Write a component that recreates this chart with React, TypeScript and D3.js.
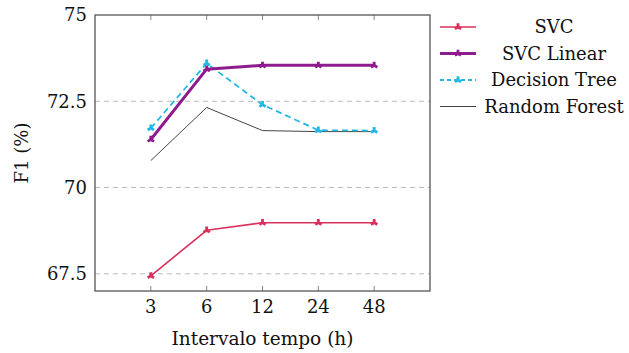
import React, { useEffect, useRef } from "react";
import * as d3 from "d3";

const categories = ["3", "6", "12", "24", "48"];
const yTicks = [67.5, 70, 72.5, 75];

const svcValues = [67.44, 68.76, 68.98, 68.98, 68.98];
const svcLinearValues = [71.39, 73.43, 73.54, 73.54, 73.54];
const decisionTreeValues = [71.72, 73.6, 72.4, 71.66, 71.65];
const randomForestValues = [70.78, 72.32, 71.65, 71.62, 71.62];

const seriesNames = ["SVC", "SVC Linear", "Decision Tree", "Random Forest"];

type Series = {
  name: string;
  values: number[];
  color: string;
  width: number;
  dash: string | null;
  marker: boolean;
};

const series: Series[] = [
  { name: seriesNames[0], values: svcValues, color: "#d8315b", width: 1.6, dash: null, marker: true },
  { name: seriesNames[1], values: svcLinearValues, color: "#8e1c8e", width: 3, dash: null, marker: true },
  { name: seriesNames[2], values: decisionTreeValues, color: "#22b8e6", width: 1.8, dash: "6,4", marker: true },
  { name: seriesNames[3], values: randomForestValues, color: "#444", width: 1, dash: null, marker: false },
];

const FONT = "DejaVu Serif";

export default function App() {
  const svgRef = useRef<SVGSVGElement>(null);

  useEffect(() => {
    if (!svgRef.current) return;
    const svg = d3.select(svgRef.current);
    svg.selectAll("*").remove();

    const left = 95, right = 430, top = 15, bottom = 291;

    const x = d3.scaleLinear().domain([-1, categories.length]).range([left, right]);
    const y = d3.scaleLinear().domain([67, 75]).range([bottom, top]);

    // grid
    svg.append("g")
      .selectAll("line")
      .data(yTicks.filter(v => v < 75))
      .join("line")
      .attr("x1", left).attr("x2", right)
      .attr("y1", d => y(d)).attr("y2", d => y(d))
      .attr("stroke", "#bbb")
      .attr("stroke-width", 1)
      .attr("stroke-dasharray", "5,4");

    // x ticks top and bottom
    const tk = svg.append("g");
    categories.forEach((c, i) => {
      tk.append("line")
        .attr("x1", x(i)).attr("x2", x(i))
        .attr("y1", bottom).attr("y2", bottom - 5)
        .attr("stroke", "#888");
      tk.append("line")
        .attr("x1", x(i)).attr("x2", x(i))
        .attr("y1", top).attr("y2", top + 5)
        .attr("stroke", "#888");
      tk.append("text")
        .attr("x", x(i)).attr("y", bottom + 22)
        .attr("text-anchor", "middle")
        .style("font-family", FONT)
        .attr("font-size", 18)
        .attr("fill", "#111")
        .text(c);
    });

    // y tick labels
    svg.append("g")
      .selectAll("text")
      .data(yTicks)
      .join("text")
      .attr("x", left - 8)
      .attr("y", d => y(d))
      .attr("dy", "0.35em")
      .attr("text-anchor", "end")
      .style("font-family", FONT)
      .attr("font-size", 18)
      .attr("fill", "#111")
      .text(d => String(d));

    // series
    const line = d3.line<number>()
      .x((d, i) => x(i))
      .y(d => y(d));

    const sym = d3.symbol().type(d3.symbolWye).size(28);

    series.slice().reverse().forEach(s => {
      svg.append("path")
        .datum(s.values)
        .attr("d", line)
        .attr("fill", "none")
        .attr("stroke", s.color)
        .attr("stroke-width", s.width)
        .attr("stroke-dasharray", s.dash)
        .attr("stroke-linejoin", "round");
      if (s.marker) {
        svg.append("g")
          .selectAll("path")
          .data(s.values)
          .join("path")
          .attr("d", sym)
          .attr("transform", (d, i) => `translate(${x(i)},${y(d)}) rotate(180)`)
          .attr("fill", s.color);
      }
    });

    // frame
    svg.append("rect")
      .attr("x", left).attr("y", top)
      .attr("width", right - left).attr("height", bottom - top)
      .attr("fill", "none")
      .attr("stroke", "#555")
      .attr("stroke-width", 1.3);

    // axis titles
    svg.append("text")
      .attr("x", (left + right) / 2).attr("y", 345)
      .attr("text-anchor", "middle")
      .style("font-family", FONT)
      .attr("font-size", 18.5)
      .attr("fill", "#111")
      .text("Intervalo tempo (h)");

    svg.append("text")
      .attr("transform", `translate(28,${(top + bottom) / 2}) rotate(-90)`)
      .attr("text-anchor", "middle")
      .style("font-family", FONT)
      .attr("font-size", 18)
      .attr("fill", "#111")
      .text("F1 (%)");

    // legend
    const lg = svg.append("g");
    series.forEach((s, i) => {
      const ly = 27 + i * 26.5;
      lg.append("line")
        .attr("x1", 440).attr("x2", 476)
        .attr("y1", ly).attr("y2", ly)
        .attr("stroke", s.color)
        .attr("stroke-width", s.width)
        .attr("stroke-dasharray", s.dash ? "4,3" : null);
      if (s.marker) {
        lg.append("path")
          .attr("d", sym)
          .attr("transform", `translate(458,${ly}) rotate(180)`)
          .attr("fill", s.color);
      }
      lg.append("text")
        .attr("x", 554).attr("y", ly)
        .attr("dy", "0.35em")
        .attr("text-anchor", "middle")
        .style("font-family", FONT)
        .attr("font-size", 18)
        .attr("fill", "#111")
        .text(s.name);
    });
  }, []);

  return (
    <div style={{ position: "absolute", left: 0, top: 0 }}>
      <svg ref={svgRef} width={629} height={353} style={{ display: "block", background: "#fff" }} />
    </div>
  );
}
